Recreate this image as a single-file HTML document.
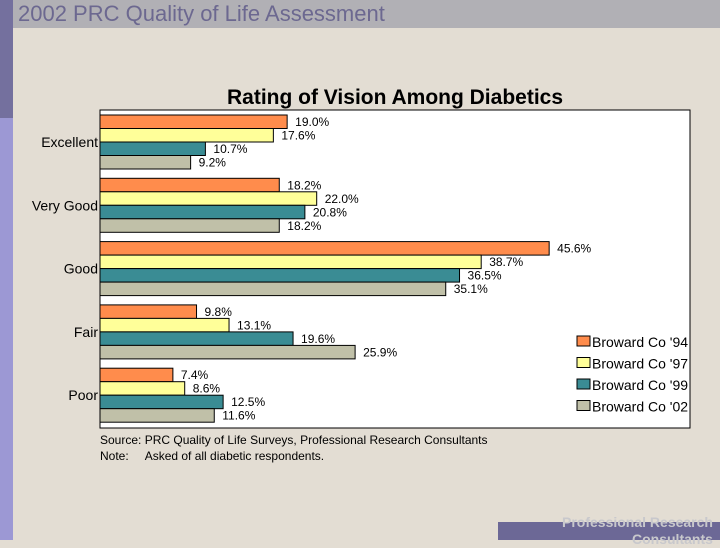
<!DOCTYPE html>
<html><head><meta charset="utf-8"><style>
body{margin:0;width:720px;height:540px;overflow:hidden;background:#e3ddd3;font-family:"Liberation Sans",sans-serif;position:relative}
</style></head><body>
<div style="position:absolute;left:0;top:0;width:720px;height:28px;background:#b1b0b5"></div>
<div style="position:absolute;left:0;top:0;width:13px;height:118px;background:#74709e"></div>
<div style="position:absolute;left:0;top:118px;width:13px;height:422px;background:#9c98d4"></div>
<div style="position:absolute;left:18px;top:1px;font-size:22px;color:#6c6890">2002 PRC Quality of Life Assessment</div>
<div style="position:absolute;left:498px;top:522px;width:222px;height:18px;background:#6c6896"></div>
<div style="position:absolute;left:562px;top:514px;font-size:14px;font-weight:bold;color:#c8c8cc;line-height:17px;white-space:nowrap">Professional Research<br><span style="margin-left:70px">Consultants</span></div>
<svg id="chart" width="720" height="540" style="position:absolute;left:0;top:0">
<defs><clipPath id="pc"><rect x="100" y="110" width="590" height="318"/></clipPath></defs>
<text x="395" y="104" text-anchor="middle" font-size="21" font-weight="bold" font-family="Liberation Sans, sans-serif">Rating of Vision Among Diabetics</text>
<rect x="100" y="110" width="590" height="318" fill="#fff" stroke="#000" stroke-width="1"/>
<g id="bars"></g>
<g id="legend" clip-path="url(#pc)"></g>
<text x="100" y="444" font-size="12" font-family="Liberation Sans, sans-serif">Source: PRC Quality of Life Surveys, Professional Research Consultants</text>
<text x="100" y="460" font-size="12" font-family="Liberation Sans, sans-serif" style="white-space:pre">Note:     Asked of all diabetic respondents.</text>
</svg>
<script>
const categories=["Excellent","Very Good","Good","Fair","Poor"];
const seriesNames=["Broward Co '94","Broward Co '97","Broward Co '99","Broward Co '02"];
const s94=[19.0,18.2,45.6,9.8,7.4];
const s97=[17.6,22.0,38.7,13.1,8.6];
const s99=[10.7,20.8,36.5,19.6,12.5];
const s02=[9.2,18.2,35.1,25.9,11.6];
const series=[s94,s97,s99,s02];
const colors=["#ff8c4c","#ffff99","#3a8c94","#c0c0a8"];
const NS="http://www.w3.org/2000/svg";
const g=document.getElementById('bars');
const lg=document.getElementById('legend');
const x=v=>100+v*9.85;
const groupY=i=>115+i*63.3;
const barH=13.5;
function mk(t,a,p){const e=document.createElementNS(NS,t);for(const k in a)e.setAttribute(k,a[k]);(p||g).appendChild(e);return e;}
categories.forEach((c,i)=>{
  const t=mk('text',{x:98,y:groupY(i)+32,'text-anchor':'end','font-size':14,'font-family':'Liberation Sans, sans-serif'});
  t.textContent=c;
  
  
  series.forEach((s,j)=>{
    const y=groupY(i)+j*barH;
    const r=mk('rect',{x:100,y:y,width:x(s[i])-100,height:barH,fill:colors[j],stroke:'#000','stroke-width':1});
    
    
    const l=mk('text',{x:x(s[i])+8,y:y+11,'font-size':12,'font-family':'Liberation Sans, sans-serif'});
    l.textContent=s[i].toFixed(1)+'%';
    
    
  });
});
seriesNames.forEach((n,j)=>{
  const y=336+j*21.5;
  const r=mk('rect',{x:577,y:y,width:13,height:10,fill:colors[j],stroke:'#000','stroke-width':1},lg);
  
  
  const t=mk('text',{x:592,y:y+11,'font-size':14,'font-family':'Liberation Sans, sans-serif'},lg);
  t.textContent=n;
  
  
});
</script>
</body></html>
